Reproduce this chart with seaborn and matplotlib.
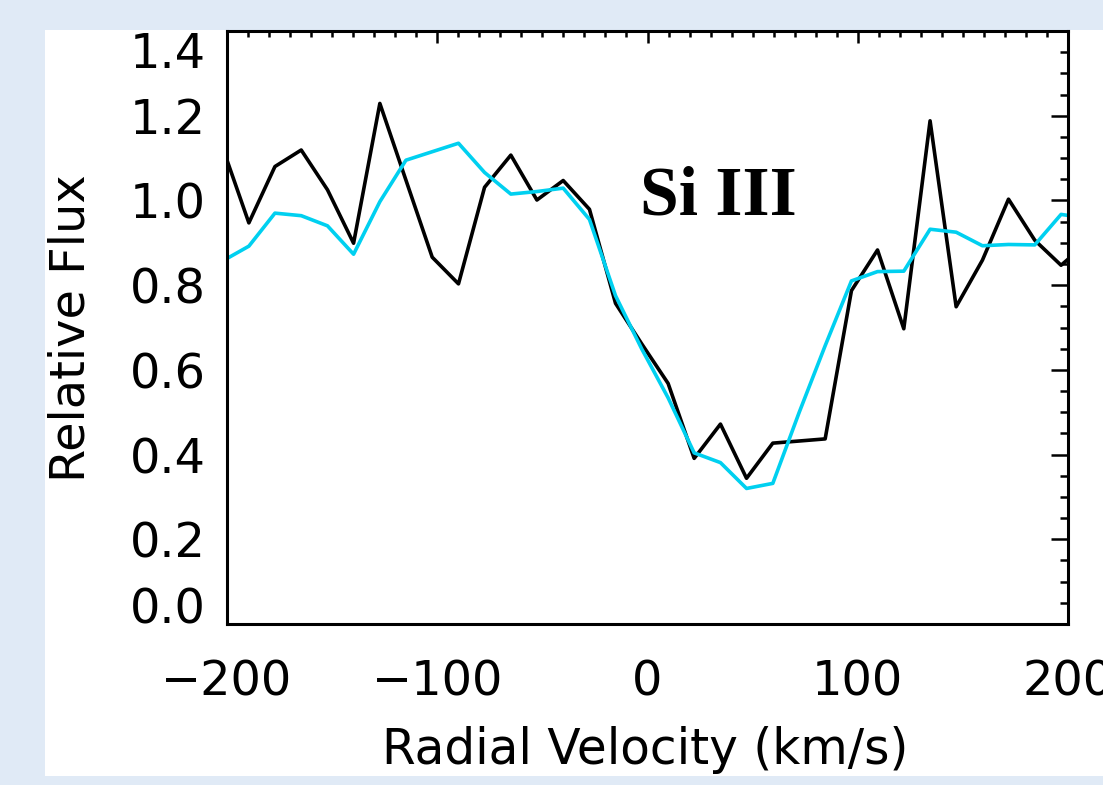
import numpy as np
import pandas as pd
import matplotlib
matplotlib.use("Agg")
import matplotlib.pyplot as plt
import seaborn as sns
from matplotlib.ticker import MultipleLocator
from matplotlib.patches import Rectangle

# ---- data ----
velocity = [-202.1, -189.6, -177.2, -164.7, -152.2, -139.8, -127.3, -114.9, -102.4,
            -89.9, -77.5, -65.0, -52.6, -40.1, -27.6, -15.2, -2.7, 9.8, 22.2, 34.7,
            47.1, 59.6, 72.1, 84.5, 97.0, 109.4, 121.9, 134.4, 146.8, 159.3, 171.7,
            184.2, 196.7, 209.1]
flux_observed = [1.125, 0.947, 1.080, 1.119, 1.025, 0.899, 1.229, 1.048, 0.866,
                 0.803, 1.031, 1.107, 1.001, 1.047, 0.979, 0.757, 0.661, 0.568,
                 0.391, 0.472, 0.344, 0.427, 0.432, 0.437, 0.787, 0.883, 0.697,
                 1.188, 0.749, 0.859, 1.003, 0.906, 0.847, 0.900]
flux_model = [0.857, 0.892, 0.970, 0.964, 0.940, 0.873, 0.997, 1.095, 1.115,
              1.135, 1.066, 1.015, 1.021, 1.029, 0.955, 0.775, 0.649, 0.534,
              0.404, 0.381, 0.320, 0.332, 0.499, 0.657, 0.810, 0.832, 0.833,
              0.932, 0.925, 0.893, 0.896, 0.895, 0.967, 0.958]
x_ticks = [-200, -100, 0, 100, 200]
y_ticks = [0.0, 0.2, 0.4, 0.6, 0.8, 1.0, 1.2, 1.4]
y_tick_labels = ["0.0", "0.2", "0.4", "0.6", "0.8", "1.0", "1.2", "1.4"]
ion_label = "Si III"
x_label = "Radial Velocity (km/s)"
y_label = "Relative Flux"

sns.set_style("white")
plt.rcParams["font.family"] = ["DejaVu Sans"]
plt.rcParams["text.color"] = "black"
plt.rcParams["axes.labelcolor"] = "black"

W, H = 1103, 785
fig = plt.figure(figsize=(W / 100, H / 100), dpi=100, facecolor="#E0EAF6")
fig.patches.append(Rectangle((45 / W, 9 / H), 1.0, (776 - 30) / H,
                             transform=fig.transFigure, facecolor="white",
                             edgecolor="none", zorder=-10))

ax = fig.add_axes([227 / W, (H - 624) / H, (1068 - 227) / W, (624 - 31) / H])
ax.set_facecolor("white")

df = pd.DataFrame({"velocity": velocity, "observed": flux_observed, "model": flux_model})
sns.lineplot(data=df, x="velocity", y="observed", color="black", linewidth=2.6,
             estimator=None, sort=False, ax=ax)
sns.lineplot(data=df, x="velocity", y="model", color="#00D0F0", linewidth=2.6,
             estimator=None, sort=False, ax=ax)

ax.set_xlim(-200, 200)
ax.set_ylim(0, 1.4)
ax.set_xticks(x_ticks)
ax.set_yticks(y_ticks)
ax.set_yticklabels(y_tick_labels)
ax.xaxis.set_minor_locator(MultipleLocator(10))
ax.yaxis.set_minor_locator(MultipleLocator(0.05))

ax.tick_params(which="both", direction="in", top=True, right=True,
               labelsize=34.5, color="black", labelcolor="black")
ax.tick_params(axis="x", which="major", length=8.6, width=1.8, pad=25)
ax.tick_params(axis="x", which="minor", length=4.3, width=1.8)
ax.tick_params(axis="y", which="major", length=12.2, width=1.8, pad=15)
ax.tick_params(axis="y", which="minor", length=6.1, width=1.8)

for sp in ax.spines.values():
    sp.set_visible(True)
    sp.set_linewidth(2.2)
    sp.set_color("black")

labels = ax.get_yticklabels()
for i, lab in enumerate(labels):
    if i == 0:
        lab.set_verticalalignment("baseline")
    elif i == len(labels) - 1:
        lab.set_verticalalignment("top")
    else:
        lab.set_verticalalignment("center_baseline")

ax.set_xlabel(x_label, fontsize=35, color="black")
ax.set_ylabel(y_label, fontsize=34.5, color="black")
ax.xaxis.set_label_coords((645 - 227) / 841, (624 - 726.5) / 593)
ax.yaxis.set_label_coords((94.5 - 227) / 841, (624 - 328) / 593)

ax.text(-3.6, 0.966, ion_label, family="Liberation Serif", weight="bold",
        fontsize=50, ha="left", va="baseline", color="black")

fig.savefig("out.png", dpi=100, facecolor=fig.get_facecolor())
